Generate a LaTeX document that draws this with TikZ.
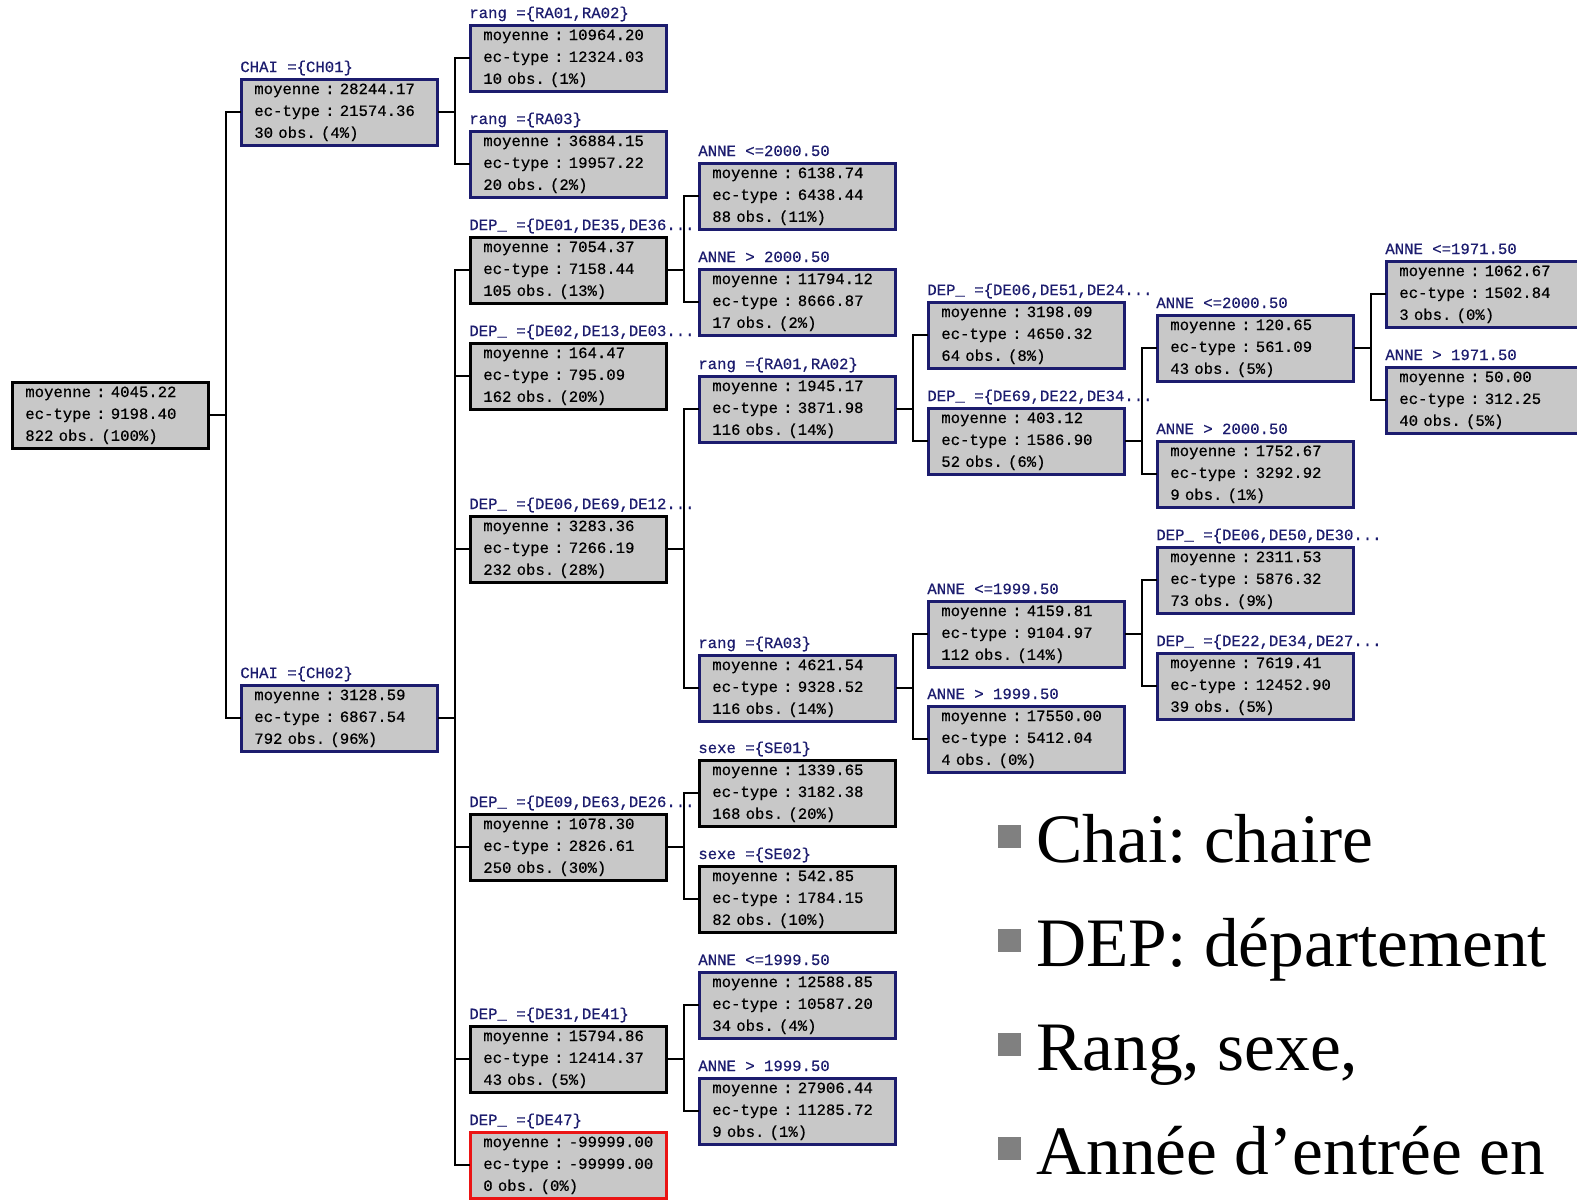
\documentclass[tikz,border=0pt]{standalone}
\usepackage{fontspec}
\newfontfamily\cartmono[FakeBold=0.5]{Liberation Mono}
\newfontfamily\legserif{Liberation Serif}
\newcommand\boxfont{\fontsize{8.9}{12.47}\selectfont\cartmono\frenchspacing}
\definecolor{navy}{RGB}{28,28,110}
\definecolor{boxgray}{RGB}{200,200,200}
\definecolor{badred}{RGB}{235,20,20}
\definecolor{bulgray}{RGB}{128,128,128}
\tikzset{
	tbox/.style={rectangle, draw=#1, line width=1.5pt, fill=boxgray, anchor=north west,
		text width=3.4cm, inner xsep=0.26cm, inner ysep=0pt, minimum height=1.32cm,
		align=left, font=\boxfont},
	tbox/.default=black,
	lab/.style={anchor=base west, inner sep=0pt, text=navy, font=\boxfont},
	link/.style={line width=1.2pt, line cap=rect, line join=miter},
}
\begin{document}
\frenchspacing
\begin{tikzpicture}[x=0.02cm, y=-0.02cm]
	\useasboundingbox (0,0) rectangle (1577,1201);
	\clip (0,0) rectangle (1577,1201);
	%les noeuds de l'arbre : nom/x/y/couleur/etiquette/moyenne/ec-type/obs/pourcentage
	\foreach \n/\x/\y/\c/\l/\m/\s/\k/\p in {
		root/11/381/black/{}/4045.22/9198.40/822/100,
		ch1/240/78/navy/{CHAI =\{CH01\}}/28244.17/21574.36/30/4,
		ch2/240/684/navy/{CHAI =\{CH02\}}/3128.59/6867.54/792/96,
		ra12/469/24/navy/{rang =\{RA01,RA02\}}/10964.20/12324.03/10/1,
		ra3/469/130/navy/{rang =\{RA03\}}/36884.15/19957.22/20/2,
		dA/469/236/black/{DEP\_ =\{DE01,DE35,DE36...}/7054.37/7158.44/105/13,
		dB/469/342/black/{DEP\_ =\{DE02,DE13,DE03...}/164.47/795.09/162/20,
		dC/469/515/black/{DEP\_ =\{DE06,DE69,DE12...}/3283.36/7266.19/232/28,
		dD/469/813/black/{DEP\_ =\{DE09,DE63,DE26...}/1078.30/2826.61/250/30,
		dE/469/1025/black/{DEP\_ =\{DE31,DE41\}}/15794.86/12414.37/43/5,
		dF/469/1131/badred/{DEP\_ =\{DE47\}}/-99999.00/-99999.00/0/0,
		aA1/698/162/navy/{ANNE <=2000.50}/6138.74/6438.44/88/11,
		aA2/698/268/navy/{ANNE > 2000.50}/11794.12/8666.87/17/2,
		rC1/698/375/navy/{rang =\{RA01,RA02\}}/1945.17/3871.98/116/14,
		rC2/698/654/navy/{rang =\{RA03\}}/4621.54/9328.52/116/14,
		sD1/698/759/black/{sexe =\{SE01\}}/1339.65/3182.38/168/20,
		sD2/698/865/black/{sexe =\{SE02\}}/542.85/1784.15/82/10,
		aE1/698/971/navy/{ANNE <=1999.50}/12588.85/10587.20/34/4,
		aE2/698/1077/navy/{ANNE > 1999.50}/27906.44/11285.72/9/1,
		dG1/927/301/navy/{DEP\_ =\{DE06,DE51,DE24...}/3198.09/4650.32/64/8,
		dG2/927/407/navy/{DEP\_ =\{DE69,DE22,DE34...}/403.12/1586.90/52/6,
		aH1/927/600/navy/{ANNE <=1999.50}/4159.81/9104.97/112/14,
		aH2/927/705/navy/{ANNE > 1999.50}/17550.00/5412.04/4/0,
		aI1/1156/314/navy/{ANNE <=2000.50}/120.65/561.09/43/5,
		aI2/1156/440/navy/{ANNE > 2000.50}/1752.67/3292.92/9/1,
		dJ1/1156/546/navy/{DEP\_ =\{DE06,DE50,DE30...}/2311.53/5876.32/73/9,
		dJ2/1156/652/navy/{DEP\_ =\{DE22,DE34,DE27...}/7619.41/12452.90/39/5,
		aK1/1385/260/navy/{ANNE <=1971.50}/1062.67/1502.84/3/0,
		aK2/1385/366/navy/{ANNE > 1971.50}/50.00/312.25/40/5}
	{
		\node[tbox=\c] (\n) at (\x,\y) {\mbox{moyenne : \m}\\\mbox{ec-type : \s}\\\mbox{\k\ obs. (\p\%)}};
		\node[lab] (l-\n) at (\x,\y-6) {\l};
	}
	%les branches
	\foreach \a/\b in {root/ch1, root/ch2, ch1/ra12, ch1/ra3,
		ch2/dA, ch2/dB, ch2/dC, ch2/dD, ch2/dE, ch2/dF,
		dA/aA1, dA/aA2, dC/rC1, dC/rC2, dD/sD1, dD/sD2, dE/aE1, dE/aE2,
		rC1/dG1, rC1/dG2, rC2/aH1, rC2/aH2, dG2/aI1, dG2/aI2,
		aH1/dJ1, aH1/dJ2, aI1/aK1, aI1/aK2}
	\draw[link] (\a.east) -- ++(16,0) |- (\b.west);
	%legende
	\foreach \t [count=\i] in {Chai: chaire, DEP: département, {Rang, sexe,}, Année d’entrée en}
	{
		\fill[bulgray] (998,{862+(\i-1)*104-37}) rectangle ++(23,23);
		\node[anchor=base west, inner sep=0pt, font=\fontsize{39.5}{42}\selectfont\legserif\frenchspacing]
			(leg-\i) at (1036,{862+(\i-1)*104}) {\t};
	}
\end{tikzpicture}
\end{document}
